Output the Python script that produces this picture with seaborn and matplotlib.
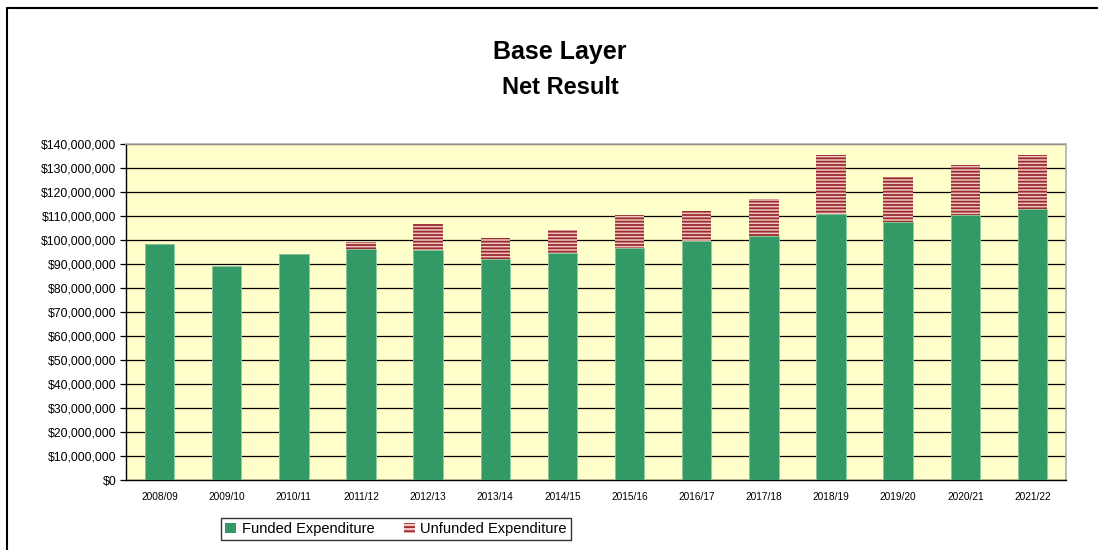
import matplotlib
matplotlib.use("Agg")
import matplotlib.pyplot as plt
from matplotlib.patches import Patch
from matplotlib.lines import Line2D
from matplotlib.ticker import FuncFormatter, FixedLocator
import seaborn as sns
import pandas as pd

# Financial years
years = ["2008/09", "2009/10", "2010/11", "2011/12", "2012/13", "2013/14", "2014/15",
         "2015/16", "2016/17", "2017/18", "2018/19", "2019/20", "2020/21", "2021/22"]

# Expenditure in dollars
funded = [98_200_000, 89_300_000, 94_200_000, 96_100_000, 95_700_000, 92_100_000, 94_400_000,
          96_800_000, 99_700_000, 101_800_000, 111_000_000, 107_400_000, 110_400_000, 113_000_000]
unfunded = [0, 0, 0, 3_200_000, 11_000_000, 8_700_000, 9_800_000,
            13_800_000, 12_300_000, 15_300_000, 24_400_000, 18_900_000, 20_900_000, 22_400_000]

series_labels = ["Funded Expenditure", "Unfunded Expenditure"]

GREEN = "#339966"
STRIPE_BG = "#eec4c4"
STRIPE_FG = "#9c2c2c"
PLOT_BG = "#ffffcc"

sns.set_style("white")
plt.rcParams["font.family"] = ["Liberation Sans", "DejaVu Sans"]
plt.rcParams["hatch.linewidth"] = 1.3
for key in ("text.color", "axes.labelcolor", "xtick.color", "ytick.color"):
    plt.rcParams[key] = "black"

df = pd.DataFrame({"year": years, "funded": funded, "unfunded": unfunded})
df["total"] = df["funded"] + df["unfunded"]

fig = plt.figure(figsize=(10.98, 5.5), dpi=100)
ax = fig.add_axes([126 / 1098, 70 / 550, 940 / 1098, 336 / 550])
ax.set_facecolor(PLOT_BG)

# Stacked bars: total (striped) underneath, funded (solid) drawn over it
sns.barplot(data=df, x="year", y="total", order=years, ax=ax, width=0.44,
            color=STRIPE_BG, saturation=1, edgecolor=STRIPE_FG, linewidth=0,
            hatch="-----", zorder=2)
sns.barplot(data=df, x="year", y="funded", order=years, ax=ax, width=0.44,
            color=GREEN, saturation=1, edgecolor="#8fcf9f", linewidth=0.6, zorder=3)

ax.set_xlim(-0.5, len(years) - 0.5)
ax.set_ylim(0, 140_000_000)
ax.set_yticks(range(0, 140_000_001, 10_000_000))
ax.yaxis.set_major_formatter(FuncFormatter(lambda v, p: f"${v:,.0f}"))
ax.set_xlabel("")
ax.set_ylabel("")

ax.set_axisbelow(True)
ax.yaxis.grid(True, color="black", linewidth=0.9)
ax.xaxis.grid(False)

# Category boundary ticks on the x axis
ax.xaxis.set_minor_locator(FixedLocator([i - 0.5 for i in range(len(years) + 1)]))
ax.tick_params(axis="x", which="major", length=0, pad=9, labelsize=7.3, colors="black")
ax.tick_params(axis="x", which="minor", length=4, width=0.9, color="black", direction="out")
ax.tick_params(axis="y", which="major", length=4, width=0.9, color="black", direction="out",
               pad=3, labelsize=8.8, left=True, labelcolor="black")

for side in ("left", "bottom"):
    ax.spines[side].set_color("black")
    ax.spines[side].set_linewidth(1.0)
for side in ("top", "right"):
    ax.spines[side].set_visible(True)
    ax.spines[side].set_color("#b0b0b0")
    ax.spines[side].set_linewidth(1.2)

# Titles
fig.text(560 / 1098, 1 - 52 / 550, "Base Layer", ha="center", va="center",
         fontsize=18, fontweight="bold", color="black")
fig.text(560 / 1098, 1 - 88 / 550, "Net Result", ha="center", va="center",
         fontsize=17, fontweight="bold", color="black")

# Legend
handles = [Patch(facecolor=GREEN, edgecolor=GREEN, linewidth=0),
           Patch(facecolor=STRIPE_BG, edgecolor=STRIPE_FG, linewidth=0, hatch="----")]
leg = fig.legend(handles, series_labels, loc="center", bbox_to_anchor=(396 / 1098, 1 - 529 / 550),
                 ncol=2, fontsize=10.5, frameon=True, fancybox=False, handlelength=0.75,
                 handleheight=0.75, handletextpad=0.4, columnspacing=2.0, borderpad=0.3,
                 labelcolor="black")
leg.get_frame().set_edgecolor("black")
leg.get_frame().set_linewidth(1.0)

# Chart-area frame
fig.add_artist(Line2D([7 / 1098, 7 / 1098], [0, 1 - 8 / 550], transform=fig.transFigure,
                      color="black", linewidth=1.5))
fig.add_artist(Line2D([7 / 1098, 1], [1 - 8 / 550, 1 - 8 / 550], transform=fig.transFigure,
                      color="black", linewidth=1.5))

fig.savefig("out.png", dpi=100, facecolor="white")
